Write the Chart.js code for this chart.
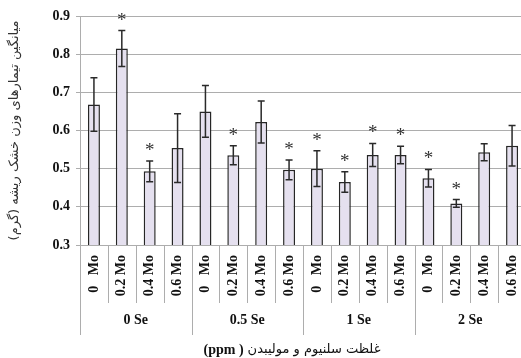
<!DOCTYPE html>
<html>
<head>
<meta charset="utf-8">
<script src="https://cdn.jsdelivr.net/npm/chart.js@4.4.0/dist/chart.umd.min.js"></script>
<style>
html,body{margin:0;padding:0;background:#fff;overflow:hidden;width:521px;height:358px;}
#wrap{width:526px;height:358px;}
</style>
</head>
<body>
<div id="wrap"><canvas id="c" width="526" height="358"></canvas></div>
<script>
// ---- data ----
const groups = ['0 Se', '0.5 Se', '1 Se', '2 Se'];
const moLabels = ['0\u00A0\u00A0\u00A0Mo', '0.2 Mo', '0.4 Mo', '0.6 Mo'];
const values = [0.668, 0.815, 0.493, 0.554, 0.650, 0.535, 0.622, 0.497, 0.500, 0.465, 0.536, 0.536, 0.475, 0.409, 0.543, 0.560];
const errors = [0.070, 0.047, 0.027, 0.090, 0.068, 0.025, 0.055, 0.026, 0.047, 0.027, 0.030, 0.023, 0.023, 0.010, 0.022, 0.053];
const signif = [0, 1, 1, 0, 0, 1, 0, 1, 1, 1, 1, 1, 1, 1, 0, 0];
const yTicks = [0.3, 0.4, 0.5, 0.6, 0.7, 0.8, 0.9];
const yTitle = 'میانگین تیمارهای وزن خشک ریشه (گرم)';
const xTitleFa = 'غلظت سلنیوم و مولیبدن';
const xTitleUnit = '(ppm )';

const categories = [];
groups.forEach(g => moLabels.forEach(m => categories.push(g + '|' + m)));

const SERIF = "'Liberation Serif', 'Times New Roman', serif";
const GRID = '#adadad';

const decor = {
  id: 'decor',
  afterDatasetsDraw(chart) {
    const ctx = chart.ctx;
    const x = chart.scales.x, y = chart.scales.y;
    ctx.save();
    ctx.strokeStyle = '#2a2a2a';
    ctx.lineWidth = 1.5;
    values.forEach((v, i) => {
      const cx = x.getPixelForValue(i);
      const yt = y.getPixelForValue(v + errors[i]);
      const yb = y.getPixelForValue(v - errors[i]);
      ctx.beginPath();
      ctx.moveTo(cx, yt); ctx.lineTo(cx, yb);
      ctx.moveTo(cx - 3.5, yt); ctx.lineTo(cx + 3.5, yt);
      ctx.moveTo(cx - 3.5, yb); ctx.lineTo(cx + 3.5, yb);
      ctx.stroke();
      if (signif[i]) {
        ctx.fillStyle = '#333';
        ctx.font = '19px ' + SERIF;
        ctx.textAlign = 'center';
        ctx.textBaseline = 'alphabetic';
        ctx.fillText('*', cx, yt - 5);
      }
    });
    ctx.restore();
  },
  afterDraw(chart) {
    const ctx = chart.ctx;
    const x = chart.scales.x;
    const area = chart.chartArea;
    const n = categories.length;
    const step = x.getPixelForValue(1) - x.getPixelForValue(0);
    ctx.save();
    // separators
    ctx.strokeStyle = GRID;
    ctx.lineWidth = 1;
    for (let k = 0; k <= n; k++) {
      const px = Math.round(x.getPixelForValue(k) - step / 2) + 0.5;
      const isGroup = k % moLabels.length === 0;
      ctx.beginPath();
      ctx.moveTo(px, area.bottom);
      ctx.lineTo(px, area.bottom + (isGroup ? 90 : 58));
      ctx.stroke();
    }
    // Mo labels (rotated)
    ctx.fillStyle = '#111';
    ctx.font = 'bold 14px ' + SERIF;
    for (let i = 0; i < n; i++) {
      const cx = x.getPixelForValue(i);
      ctx.save();
      ctx.translate(cx, area.bottom + 10);
      ctx.rotate(-Math.PI / 2);
      ctx.textAlign = 'right';
      ctx.textBaseline = 'middle';
      ctx.fillText(moLabels[i % moLabels.length], 0, 0);
      ctx.restore();
    }
    // group labels
    ctx.font = 'bold 14px ' + SERIF;
    ctx.textAlign = 'center';
    ctx.textBaseline = 'middle';
    groups.forEach((g, gi) => {
      const a = x.getPixelForValue(gi * 4), b = x.getPixelForValue(gi * 4 + 3);
      ctx.fillText(g, (a + b) / 2, area.bottom + 75);
    });
    // x title
    const ty = area.bottom + 105;
    ctx.font = '13px "DejaVu Sans", sans-serif';
    const wFa = ctx.measureText(xTitleFa).width;
    ctx.font = 'bold 14px ' + SERIF;
    const wU = ctx.measureText(xTitleUnit).width;
    const gap = 4;
    const total = wFa + gap + wU;
    const center = 292;
    const left = center - total / 2;
    ctx.textAlign = 'left';
    ctx.fillStyle = '#111';
    ctx.fillText(xTitleUnit, left, ty);
    ctx.font = '13px "DejaVu Sans", sans-serif';
    ctx.fillText(xTitleFa, left + wU + gap, ty);
    ctx.restore();
  }
};

new Chart(document.getElementById('c'), {
  type: 'bar',
  data: {
    labels: categories,
    datasets: [{
      data: values,
      backgroundColor: '#e5e0ef',
      borderColor: '#262626',
      borderWidth: 1.5,
      borderSkipped: false,
      categoryPercentage: 1,
      barPercentage: 0.43
    }]
  },
  options: {
    responsive: false,
    animation: false,
    devicePixelRatio: 1,
    layout: { padding: { top: 16, right: 0, bottom: 113, left: 0 } },
    plugins: { legend: { display: false }, tooltip: { enabled: false } },
    scales: {
      x: {
        ticks: { display: false },
        grid: { display: false },
        border: { display: false },
        afterFit(s) { s.height = 0; }
      },
      y: {
        min: 0.3, max: 0.9,
        afterBuildTicks(s) { s.ticks = yTicks.map(v => ({ value: v })); },
        afterFit(s) { s.width = 80; },
        ticks: {
          callback: v => v.toFixed(1),
          color: '#111',
          font: { family: SERIF, size: 14, weight: 'bold' },
          padding: 6
        },
        grid: { color: GRID, tickLength: 4 },
        border: { color: GRID },
        title: {
          display: true,
          text: yTitle,
          color: '#333',
          font: { family: '"DejaVu Sans", sans-serif', size: 13 },
          padding: { top: 7, bottom: 0 }
        }
      }
    }
  },
  plugins: [decor]
});
</script>
</body>
</html>
